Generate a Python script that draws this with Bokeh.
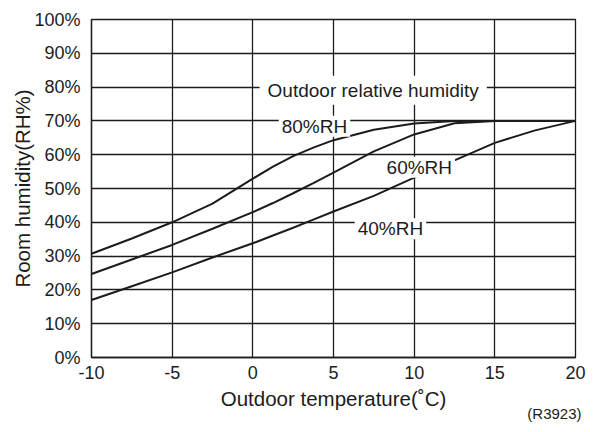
from bokeh.plotting import figure
from bokeh.models import Range1d, FixedTicker, PrintfTickFormatter, Label, Title
from bokeh.embed import file_html
from bokeh.resources import INLINE

# ---- data ----
temperature = [-10, -7.5, -5, -2.5, 0, 1.25, 2.5, 3.75, 5, 7.5, 10, 12.5, 15, 17.5, 20]
rh80 = [30.7, 35.2, 40.0, 45.5, 52.9, 56.5, 59.6, 62.1, 64.3, 67.4, 69.2, 70.0, 70.0, 70.0, 70.0]
rh60 = [24.7, 29.0, 33.3, 38.1, 43.0, 45.7, 48.6, 51.6, 54.7, 61.0, 66.0, 69.3, 70.0, 70.0, 70.0]
rh40 = [17.0, 21.1, 25.2, 29.6, 33.8, 36.1, 38.4, 40.8, 43.2, 47.8, 53.2, 58.3, 63.5, 67.2, 70.0]
x_ticks = [-10, -5, 0, 5, 10, 15, 20]
y_ticks = [0, 10, 20, 30, 40, 50, 60, 70, 80, 90, 100]
series_names = ["80%RH", "60%RH", "40%RH"]

INK = "#1c1c1c"
FONT = "Liberation Sans"

p = figure(width=586, height=424, output_backend="svg", toolbar_location=None,
           x_range=Range1d(-10, 20), y_range=Range1d(0, 100),
           min_border_left=91, min_border_right=11, min_border_top=19, min_border_bottom=67)
p.background_fill_color = "white"
p.border_fill_color = "white"
p.outline_line_color = INK
p.outline_line_width = 1.3

for ax in (p.xaxis[0], p.yaxis[0]):
    ax.major_tick_line_color = None
    ax.minor_tick_line_color = None
    ax.axis_line_color = INK
    ax.axis_line_width = 1.3
    ax.major_label_text_font = FONT
    ax.major_label_text_font_size = "18px"
    ax.major_label_text_color = INK
    ax.axis_label_text_font = FONT
    ax.axis_label_text_font_size = "20.5px"
    ax.axis_label_text_font_style = "normal"
    ax.axis_label_text_color = INK

p.xaxis.ticker = FixedTicker(ticks=x_ticks)
p.yaxis.ticker = FixedTicker(ticks=y_ticks)
p.xaxis.formatter = PrintfTickFormatter(format="%d")
p.yaxis.formatter = PrintfTickFormatter(format="%d%%")
p.xaxis.major_label_standoff = 2
p.yaxis.major_label_standoff = 5
p.xaxis.axis_label = "Outdoor temperature(˚C)"
p.yaxis.axis_label = "Room humidity(RH%)"
p.xaxis.axis_label_standoff = 5
p.yaxis.axis_label_standoff = -3

p.grid.grid_line_color = INK
p.grid.grid_line_width = 1.3
p.grid.grid_line_alpha = 1.0

for ys in (rh80, rh60, rh40):
    p.line(temperature, ys, line_color=INK, line_width=2)

common = dict(text_font=FONT, text_font_size="19px", text_color=INK,
              text_align="center", text_baseline="middle",
              background_fill_color="white", background_fill_alpha=1.0)

p.add_layout(Label(x=7.46, y=79.1, text="Outdoor relative humidity", padding=(8, 4), **common))
label_pos = [(3.82, 68.4), (10.32, 56.3), (8.53, 38.1)]
for name, (lx, ly) in zip(series_names, label_pos):
    p.add_layout(Label(x=lx, y=ly, text=name, padding=(3, 0), **common))

note = Title(text="(R3923)", align="right", text_font=FONT, text_font_size="15px",
             text_font_style="normal", text_color=INK, standoff=-16, offset=-6,
             vertical_align="top")
p.add_layout(note, "below")

open("out.html", "w").write(file_html(p, INLINE))
